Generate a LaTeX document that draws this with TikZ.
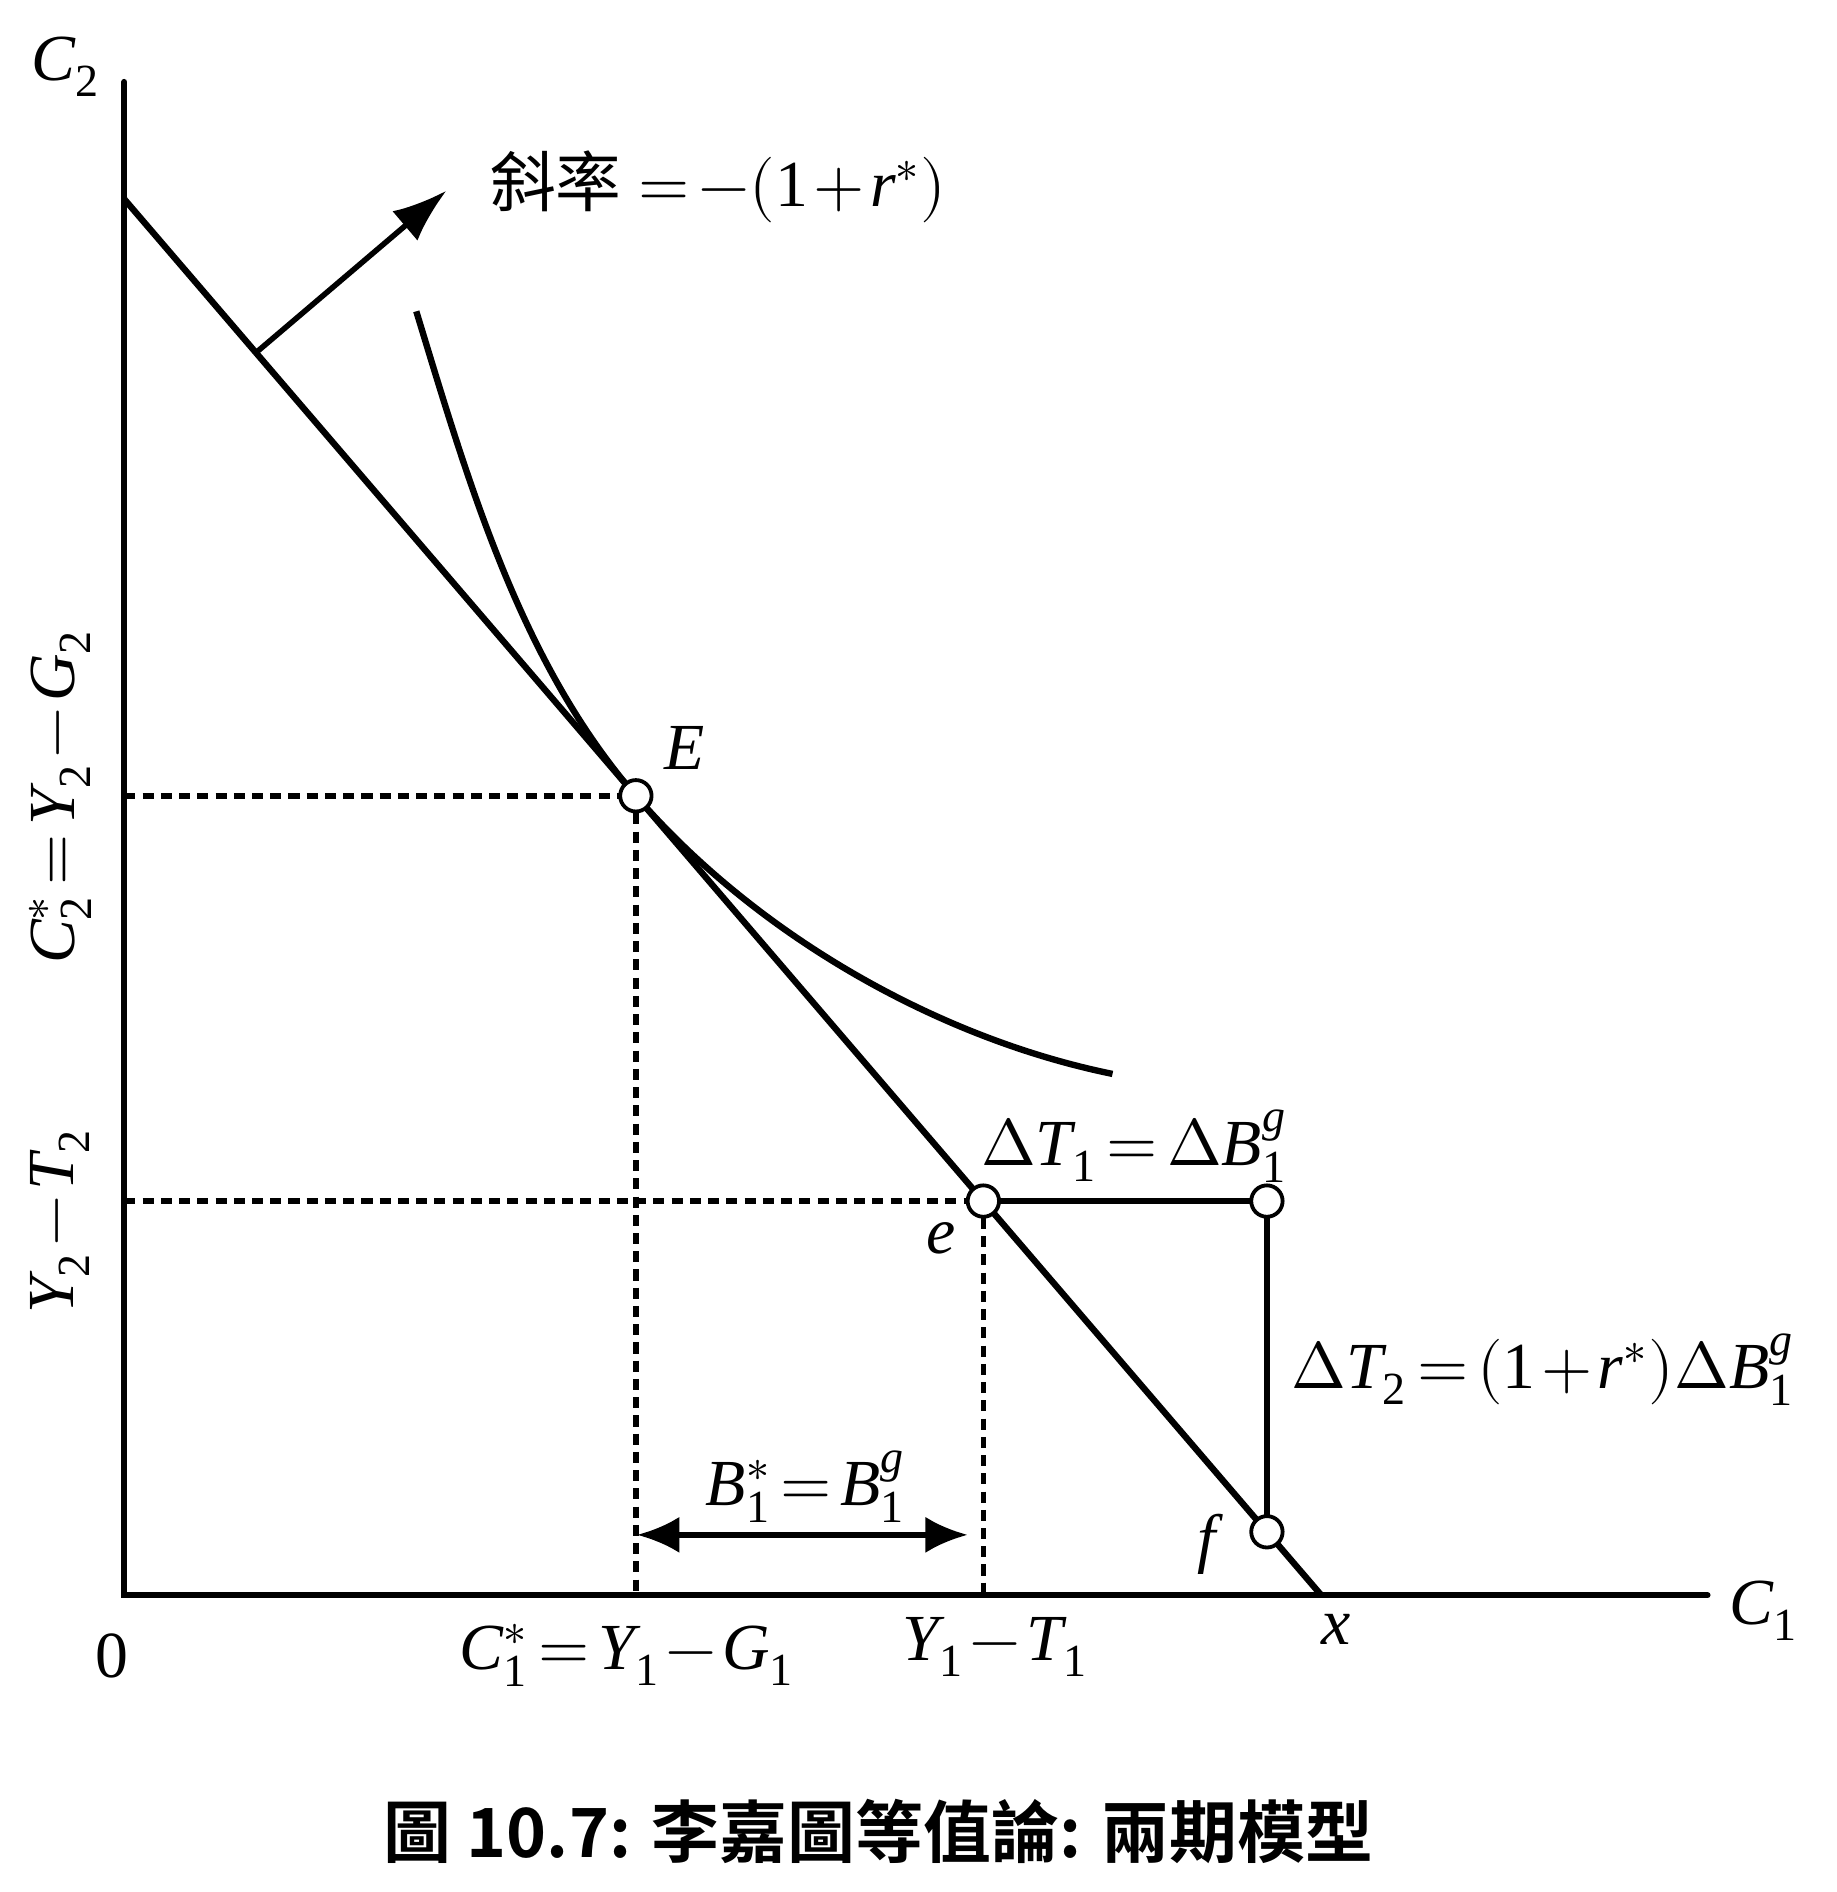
\documentclass[tikz,border=0pt]{standalone}
\usepackage{fontspec}
\usepackage{unicode-math}
\setmainfont{Liberation Serif}
\setmathfont{Latin Modern Math}
\setmathfont{Liberation Serif Italic}[range=it/{Latin,latin}]
\setmathfont{Liberation Serif}[range=up/{num}]
\newfontfamily\cjkfont{Noto Sans CJK TC}
\newfontfamily\cjkbold{Noto Sans CJK TC Bold}
\newcommand{\tightmath}{\thickmuskip=2.5mu\relax\medmuskip=1.5mu\relax}
\usepackage{tikz}
\usetikzlibrary{arrows.meta, positioning, calc}

\begin{document}
\begin{tikzpicture}[
    x=0.01cm, y=-0.01cm,
    node distance=0.2cm,
    axisline/.style={
        line width=1.5pt,
        line cap=round
    },
    budgetline/.style={
        line width=1.5pt
    },
    guideline/.style={
        line width=1.3pt,
        dash pattern=on 2.6pt off 1.7pt
    },
    taxline/.style={
        line width=1.3pt
    },
    dot/.style={
        circle,
        draw,
        fill=white,
        line width=0.9pt,
        inner sep=0pt,
        minimum size=0.26cm
    },
    mathlabel/.style={
        font=\fontsize{15.5}{18}\selectfont\tightmath,
        inner sep=1pt
    },
    caption/.style={
        font=\cjkbold\fontsize{16}{19}\selectfont
    }
]
\useasboundingbox (0,0) rectangle (1522,1568);

% Axes
\coordinate (O) at (103,1322);
\coordinate (ytop) at (103,68);
\coordinate (xend) at (1415,1322);
\draw[axisline] (ytop) -- (O) -- (xend);
\node[mathlabel] (c2lab) at (55,55) {$C_2$};
\node[mathlabel] (c1lab) at (1462,1335) {$C_1$};
\node[mathlabel] (zero) at (93,1372) {$0$};

% Budget line
\coordinate (A) at (103,165);
\coordinate (X) at (1095,1322);
\draw[budgetline] (A) -- (X);
\node[mathlabel] (xlab) at (1107,1350) {$x$};

% Indifference curve
\coordinate (E) at ($(A)!0.4274!(X)$);
\draw[budgetline] (345,258) .. controls (388,399) and (431,549) .. (E)
    .. controls (625,773) and (775,860) .. (922,890);

% Slope arrow
\coordinate (s0) at ($(A)!0.11!(X)$);
\coordinate (s1) at (370,158);
\draw[line width=1.3pt, -{Latex[length=0.45cm, width=0.32cm]}] (s0) -- (s1);
\node[mathlabel, anchor=west] (slope) at (402,155)
    {{\cjkfont 斜率} $=-(1+r^{*})$};

% Points on the budget line
\coordinate (e) at ($(A)!0.7177!(X)$);
\coordinate (f) at ($(A)!0.9546!(X)$);

% Dashed guides
\draw[guideline] (E -| O) -- (E) -- (E |- O);
\draw[guideline] (e -| O) -- (e) -- (e |- O);

% Tax change lines
\coordinate (g) at (f |- e);
\draw[taxline] (e) -- (g) -- (f);

\node[dot] (Edot) at (E) {};
\node[dot] (edot) at (e) {};
\node[dot] (gdot) at (g) {};
\node[dot] (fdot) at (f) {};

\node[mathlabel] (Elab) at ($(Edot)+(40,-40)$) {$E$};
\node[mathlabel] (elab) at ($(edot)+(-35,31)$) {$e$};
\node[mathlabel] (flab) at ($(fdot)+(-50,10)$) {$f$};

\node[mathlabel] (dt1) at (940,950) {$\Delta T_1=\Delta B_1^{g}$};
\node[mathlabel, anchor=west] (dt2) at (1066,1135) {$\Delta T_2=(1+r^{*})\Delta B_1^{g}$};

% Bond arrow
\coordinate (b0) at (528,1272);
\coordinate (b1) at (802,1272);
\draw[line width=1.3pt, {Latex[length=0.35cm, width=0.3cm]}-{Latex[length=0.35cm, width=0.3cm]}] (b0) -- (b1);
\node[mathlabel] (blab) at (668,1232) {$B_1^{*}=B_1^{g}$};

% Axis value labels
\node[mathlabel] (c1star) at (520,1372) {$C_1^{*}=Y_1-G_1$};
\node[mathlabel] (y1t1) at (825,1365) {$Y_1-T_1$};
\node[mathlabel, rotate=90] (c2star) at (50,660) {$C_2^{*}=Y_2-G_2$};
\node[mathlabel, rotate=90] (y2t2) at (50,1012) {$Y_2-T_2$};

% Caption
\node[caption] (cap) at (728,1518) {圖 10.7: 李嘉圖等值論: 兩期模型};

\end{tikzpicture}
\end{document}
